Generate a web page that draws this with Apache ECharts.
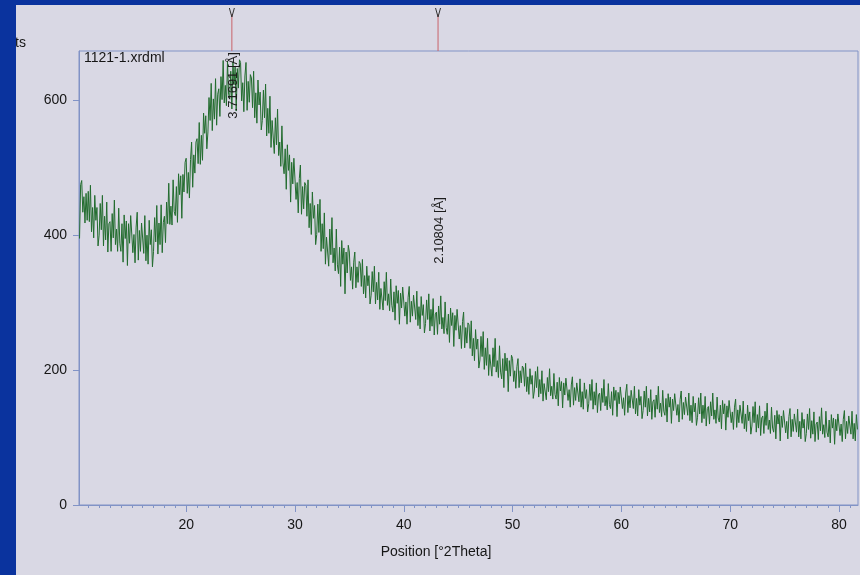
<!DOCTYPE html>
<html>
<head>
<meta charset="utf-8">
<script src="https://cdn.jsdelivr.net/npm/echarts@6/dist/echarts.min.js"></script>
<style>
html,body{margin:0;padding:0;background:#d9d8e4;}
#chart{width:860px;height:575px;}
</style>
</head>
<body>
<div id="chart"></div>
<script>
// scan grid (instrument step) and counts
const scanStart = 10.2;
const scanStep = 0.1;
const counts = [
395,475,481,434,457,418,462,422,
465,420,474,405,441,396,459,422,441,384,
400,447,408,459,384,428,393,449,375,417,
420,376,432,396,452,386,409,376,440,388,
376,417,360,430,395,421,355,417,388,429,
430,374,401,359,412,434,363,407,376,418,
416,373,429,362,400,357,422,386,408,353,
376,426,390,444,372,418,386,445,374,419,
428,389,449,417,477,416,443,415,482,435,
429,472,419,491,460,488,425,490,464,508,
514,462,493,455,512,538,471,519,492,538,
543,506,567,505,548,511,581,551,577,528,
553,604,570,625,555,602,572,632,563,609,
617,576,635,601,659,596,622,592,658,609,
602,643,587,657,623,650,584,647,618,660,
656,599,626,583,636,656,585,628,597,638,
633,589,643,574,611,566,630,593,612,556,
570,615,574,624,547,588,551,606,530,570,
568,521,574,534,587,518,538,502,562,507,
491,528,468,534,496,519,449,508,476,514,
512,453,478,433,484,504,431,472,439,478,
474,428,482,411,447,401,464,425,444,386,
401,446,404,453,376,417,380,433,357,397,
399,354,409,371,426,359,381,347,409,356,
343,382,324,392,357,381,313,375,344,385,
375,333,353,320,360,375,322,353,330,361,
358,324,364,313,340,307,354,325,340,298,
311,346,316,354,298,330,304,345,290,321,
323,289,331,303,345,296,313,288,335,296,
286,316,274,325,299,318,268,314,292,323,
322,280,301,268,308,324,271,302,280,311,
309,275,317,266,294,261,309,281,297,255,
269,304,275,313,258,290,265,306,252,283,
286,253,295,268,310,261,278,254,301,263,
253,283,241,292,266,285,235,281,259,290,
289,246,266,232,272,286,233,263,240,270,
267,232,273,221,247,214,260,231,246,203,
215,250,220,257,201,233,207,247,192,223,
225,191,233,205,247,197,214,189,236,197,
187,217,174,225,199,218,168,214,191,222,
217,183,199,173,205,217,174,199,181,206,
203,176,210,168,190,164,202,179,192,158,
169,198,174,205,160,186,165,199,154,180,
182,156,189,168,202,162,176,157,195,164,
157,182,147,189,169,183,144,181,163,188,
188,155,171,145,178,190,148,174,155,181,
179,153,187,145,168,142,181,158,171,138,
150,179,155,186,142,168,148,181,137,163,
166,140,173,152,186,147,161,141,180,149,
143,168,133,175,155,170,131,167,150,175,
176,143,159,133,166,179,137,162,144,170,
169,143,176,135,158,132,171,148,161,128,
140,169,145,176,132,158,138,171,127,153,
156,130,163,142,176,137,151,131,170,139,
133,158,123,165,145,160,121,157,140,165,
166,133,149,123,156,169,127,152,134,160,
159,133,166,125,148,122,161,138,151,118,
130,159,135,166,122,148,128,161,117,143,
146,120,153,132,166,127,141,121,160,129,
123,148,113,155,135,150,111,147,130,155,
155,122,138,112,145,157,115,141,122,148,
147,121,154,113,135,109,148,125,138,105,
117,146,122,153,108,134,114,147,103,129,
132,106,139,118,151,112,126,106,145,114,
108,133,98,140,120,134,95,132,115,140,
140,107,124,98,131,143,101,127,109,135,
134,108,142,101,124,98,137,114,127,94,
106,135,112,143,99,125,105,138,94,120,
123,97,131,110,144,105,119,100,139,108,
101,126,92,134,114,129,90,127,110,135,
136,103,120,94,127,140,98,124,106,132,
131,105,139,98,121,95,134,112
];
const xMajorTicks = [20,30,40,50,60,70,80];
const xMinorTicks = [11,12,13,14,15,16,17,18,19,20,21,22,23,24,25,26,27,28,29,30,
  31,32,33,34,35,36,37,38,39,40,41,42,43,44,45,46,47,48,49,50,51,52,53,54,55,56,57,58,59,60,
  61,62,63,64,65,66,67,68,69,70,71,72,73,74,75,76,77,78,79,80,81];
const yTicks = [0,200,400,600];
const peakPositions = [24.2, 43.15];
const peakLabels = ['3.71691 [Å]', '2.10804 [Å]'];
const peakLabelCounts = [622, 407];
const fileName = '1121-1.xrdml';
const xAxisTitle = 'Position [°2Theta]';
const yAxisTitle = 'Counts';

const xRange = [10.15, 81.75];
const yRange = [0, 673];

const seriesData = counts.map((c, i) => [scanStart + i * scanStep, c]);

const frameColor = '#8193c6';
const textColor = '#161616';
const fontFamily = 'Liberation Sans, Arial, sans-serif';

const chart = echarts.init(document.getElementById('chart'), null, {renderer: 'canvas'});
chart.setOption({
  animation: false,
  backgroundColor: '#d9d8e4',
  grid: {left: 79, top: 51, right: 2, bottom: 70, show: true, borderColor: frameColor, borderWidth: 1, backgroundColor: 'transparent'},
  xAxis: [{
    type: 'value', min: xRange[0], max: xRange[1],
    axisLine: {show: true, lineStyle: {color: frameColor, width: 1}},
    axisTick: {show: true, length: 7, customValues: xMajorTicks, lineStyle: {color: frameColor}},
    axisLabel: {customValues: xMajorTicks, margin: 13, color: textColor, fontSize: 14, fontFamily: fontFamily},
    splitLine: {show: false}
  }, {
    type: 'value', min: xRange[0], max: xRange[1], position: 'bottom',
    axisLine: {show: false},
    axisTick: {show: true, length: 3, customValues: xMinorTicks, lineStyle: {color: frameColor}},
    axisLabel: {show: false},
    splitLine: {show: false}
  }],
  yAxis: {
    type: 'value', min: yRange[0], max: yRange[1],
    axisLine: {show: true, lineStyle: {color: frameColor, width: 1}},
    axisTick: {show: true, length: 6, customValues: yTicks, lineStyle: {color: frameColor}},
    axisLabel: {customValues: yTicks, margin: 12, color: textColor, fontSize: 14, fontFamily: fontFamily},
    splitLine: {show: false}
  },
  series: [{
    type: 'line', xAxisIndex: 0, data: seriesData, showSymbol: false, symbol: 'none',
    lineStyle: {color: '#226c2e', width: 1}, silent: true, z: 3
  }]
});

const graphics = [];
peakPositions.forEach((p, i) => {
  const px = chart.convertToPixel({xAxisIndex: 0}, p);
  const topY = chart.convertToPixel({yAxisIndex: 0}, yRange[1]);
  graphics.push({type: 'line', shape: {x1: px, y1: 14, x2: px, y2: topY}, style: {stroke: '#c9636a', lineWidth: 1}, z: 10});
  graphics.push({type: 'polyline', shape: {points: [[px - 2.5, 8], [px, 17], [px + 2.5, 8]]}, style: {stroke: '#333', lineWidth: 1, fill: null}, z: 10});
  const ly = chart.convertToPixel({yAxisIndex: 0}, peakLabelCounts[i]);
  graphics.push({type: 'text', x: px + 1.5, y: ly, rotation: Math.PI / 2,
    style: {text: peakLabels[i], fill: '#1c1c1c', font: '13px ' + fontFamily, textAlign: 'center', textVerticalAlign: 'middle'}, z: 11});
});
graphics.push({type: 'text', x: 84, y: 51, style: {text: fileName, fill: textColor, font: '14px ' + fontFamily, textAlign: 'left', textVerticalAlign: 'top'}, z: 11});
graphics.push({type: 'text', x: 436, y: 552, style: {text: xAxisTitle, fill: textColor, font: '14px ' + fontFamily, textAlign: 'center', textVerticalAlign: 'middle'}, z: 11});
graphics.push({type: 'text', x: 26, y: 43, style: {text: yAxisTitle, fill: textColor, font: '14px ' + fontFamily, textAlign: 'right', textVerticalAlign: 'middle'}, z: 11});
// blue slide border
graphics.push({type: 'rect', shape: {x: 0, y: 0, width: 16, height: 575}, style: {fill: '#0a339e'}, z: 50});
graphics.push({type: 'rect', shape: {x: 0, y: 0, width: 860, height: 5}, style: {fill: '#0a339e'}, z: 50});
chart.setOption({graphic: graphics});
</script>
</body>
</html>
